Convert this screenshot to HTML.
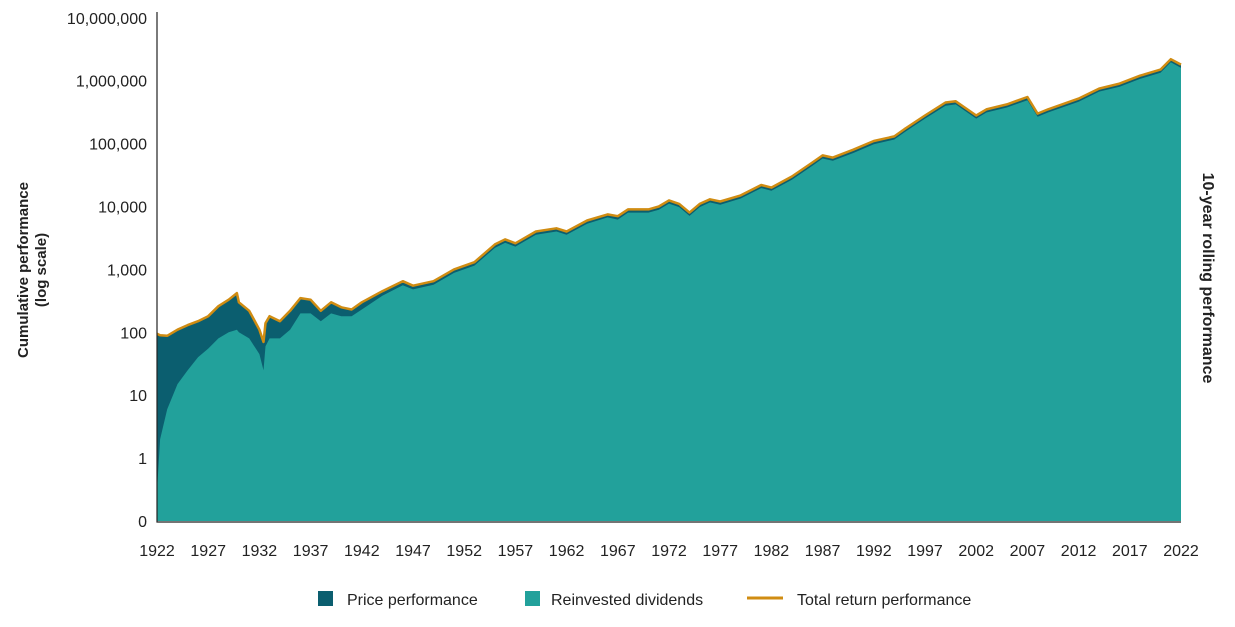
<!DOCTYPE html>
<html><head><meta charset="utf-8"><style>
body{margin:0;background:#fff;font-family:"Liberation Sans",sans-serif;}
svg{display:block}
text{font-family:"Liberation Sans",sans-serif;fill:#222}
</style></head><body>
<svg id="c" width="1235" height="627">
<g id="plot"></g>
<g id="yax"></g>
<g id="xax"></g>
<text transform="translate(28,270) rotate(-90)" text-anchor="middle" font-size="15" font-weight="bold"><tspan x="0" dy="0">Cumulative performance</tspan><tspan x="0" dy="18">(log scale)</tspan></text>
<text transform="translate(1203,278) rotate(90)" text-anchor="middle" font-size="16" font-weight="bold">10-year rolling performance</text>
<g>
<rect x="318" y="591" width="15" height="15" fill="#0b5e6f"/>
<text x="347" y="605" font-size="16">Price performance</text>
<rect x="525" y="591" width="15" height="15" fill="#22a19b"/>
<text x="551" y="605" font-size="16">Reinvested dividends</text>
<line x1="747" y1="598" x2="783" y2="598" stroke="#d08c12" stroke-width="3"/>
<text x="797" y="605" font-size="16">Total return performance</text>
</g>
</svg>
<script>
const years=[1922,1922.3,1923,1924,1925,1926,1927,1928,1929,1929.8,1930,1931,1932,1932.4,1932.6,1933,1934,1935,1936,1937,1938,1939,1940,1941,1942,1944,1946,1947,1949,1951,1953,1955,1956,1957,1959,1961,1962,1964,1966,1967,1968,1970,1971,1972,1973,1974,1975,1976,1977,1979,1981,1982,1984,1986,1987,1988,1990,1992,1994,1995,1997,1999,2000,2002,2003,2005,2007,2008,2009,2012,2014,2016,2018,2020,2021,2022];
const totalReturn=[95,90,88,110,130,150,180,260,330,420,300,220,110,70,140,180,150,220,350,330,220,300,250,230,300,450,650,550,650,1000,1300,2500,3000,2600,4000,4500,4000,6000,7500,7000,9000,9000,10000,12500,11000,8000,11000,13000,12000,15000,22000,20000,30000,50000,65000,60000,80000,110000,130000,170000,280000,450000,470000,280000,350000,420000,550000,300000,350000,520000,750000,900000,1200000,1500000,2200000,1800000];
const dividends=[0.3,2,6,15,25,40,55,80,100,110,100,80,45,25,60,80,80,110,200,200,150,200,180,180,230,380,560,480,570,880,1150,2200,2650,2300,3550,4000,3550,5300,6700,6200,8000,8000,8900,11100,9800,7100,9800,11600,10700,13400,19600,17800,26700,44500,58000,53500,71000,98000,116000,152000,250000,400000,420000,250000,312000,375000,490000,268000,312000,464000,670000,800000,1070000,1340000,1960000,1600000];
const yTicks=[0.1,1,10,100,1000,10000,100000,1000000,10000000];
const yTickLabels=["0","1","10","100","1,000","10,000","100,000","1,000,000","10,000,000"];
const xTicks=[1922,1927,1932,1937,1942,1947,1952,1957,1962,1967,1972,1977,1982,1987,1992,1997,2002,2007,2012,2017,2022];

const X0=157,X1=1181,Y0=521,DEC=62.9;
const x=v=>X0+(v-1922)/(2022-1922)*(X1-X0);
const y=v=>Y0-(Math.log10(v)+1)*DEC;
const NS="http://www.w3.org/2000/svg";
function mk(t,a,p){const e=document.createElementNS(NS,t);for(const k in a)e.setAttribute(k,a[k]);p.appendChild(e);return e;}
const plot=document.getElementById('plot'),yax=document.getElementById('yax'),xax=document.getElementById('xax');
function area(arr){let d=`M${x(years[0])},${Y0}`;years.forEach((yr,i)=>d+=`L${x(yr).toFixed(1)},${y(arr[i]).toFixed(1)}`);return d+`L${x(years[years.length-1])},${Y0}Z`;}
const a1=mk('path',{d:area(totalReturn),fill:'#0b5e6f'},plot);


const a2=mk('path',{d:area(dividends),fill:'#22a19b'},plot);


const ln=mk('path',{d:years.map((yr,i)=>(i?'L':'M')+x(yr).toFixed(1)+','+y(totalReturn[i]).toFixed(1)).join(''),fill:'none',stroke:'#d08c12','stroke-width':2.5,'stroke-linejoin':'round'},plot);


const axl=mk('path',{d:`M${X0},12V${Y0+1}H${X1}`,fill:'none',stroke:'#222','stroke-width':1.2},yax);


yTicks.forEach((v,i)=>{const t=mk('text',{x:147,y:y(v)+6,'text-anchor':'end','font-size':16},yax);t.textContent=yTickLabels[i];

});
xTicks.forEach(v=>{const t=mk('text',{x:x(v),y:556,'text-anchor':'middle','font-size':16},xax);t.textContent=v;

});
</script>
</body></html>
